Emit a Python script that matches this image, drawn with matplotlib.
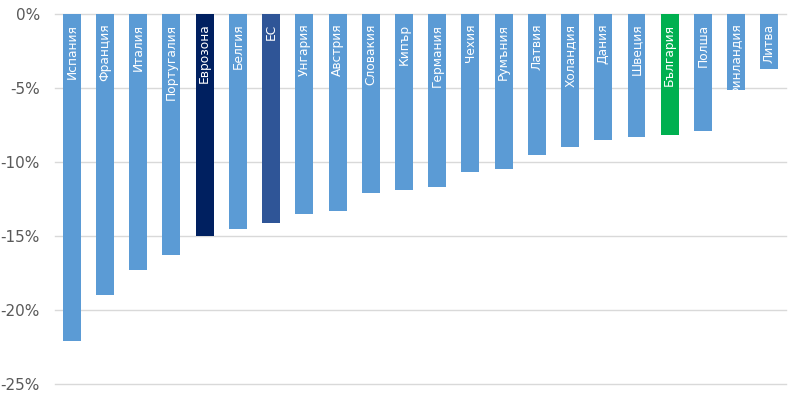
import matplotlib.pyplot as plt
import numpy as np

# данни
countries = ['Испания', 'Франция', 'Италия', 'Португалия', 'Еврозона', 'Белгия', 'ЕС',
             'Унгария', 'Австрия', 'Словакия', 'Кипър', 'Германия', 'Чехия', 'Румъния',
             'Латвия', 'Холандия', 'Дания', 'Швеция', 'България', 'Полша', 'Финландия', 'Литва']
values = [-22.1, -19.0, -17.3, -16.3, -15.0, -14.5, -14.1,
          -13.5, -13.3, -12.1, -11.9, -11.7, -10.7, -10.5,
          -9.55, -9.0, -8.5, -8.3, -8.2, -7.9, -5.15, -3.7]

base_color = '#5B9BD5'
special = {'Еврозона': '#002060', 'ЕС': '#2F5597', 'България': '#00B050'}
colors = [special.get(c, base_color) for c in countries]

fig = plt.figure(figsize=(8, 3.98), dpi=100)
ax = fig.add_axes([0.069, 0.0352, 0.9135, 0.9296])

x = np.arange(len(countries))
ax.bar(x, values, width=0.54, color=colors, zorder=3)

# надписи в колоните
for xi, name in zip(x, countries):
    ax.text(xi, -0.65, name, rotation=90, ha='center', va='top', color='white',
            fontsize=8.8, zorder=4)

ax.set_xlim(-0.5, len(countries) - 0.5)
ax.set_ylim(-25, 0)
ax.set_yticks(np.arange(-25, 1, 5))
ax.set_yticklabels([f'{v}%' for v in range(-25, 1, 5)])
ax.set_xticks([])
ax.grid(axis='y', color='#D9D9D9', linewidth=1, zorder=0)
for gl in ax.get_ygridlines():
    gl.set_clip_on(False)
ax.tick_params(axis='y', length=0, pad=11, labelsize=11, labelcolor='#595959')
for s in ax.spines.values():
    s.set_visible(False)

plt.savefig('out.png', dpi=100)
